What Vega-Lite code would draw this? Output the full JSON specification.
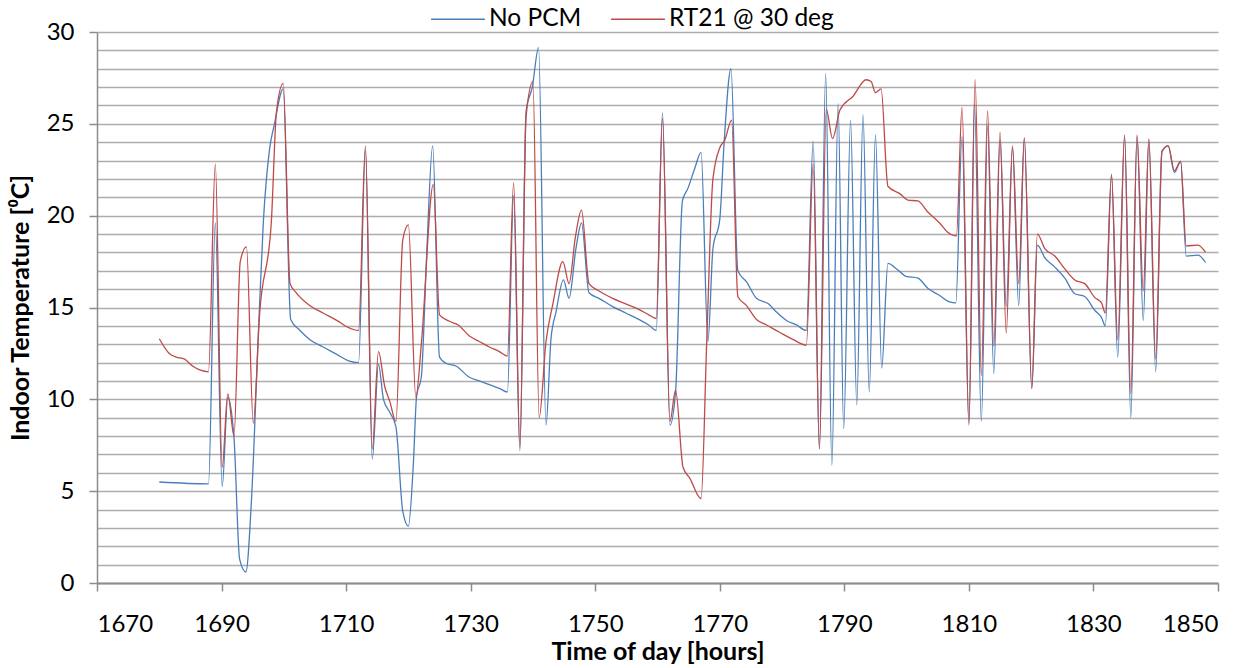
{
  "$schema": "https://vega.github.io/schema/vega-lite/v6.json",
  "autosize": {"type": "none"},
  "width": 1121,
  "height": 551,
  "padding": {"left": 97, "top": 32, "right": 40, "bottom": 85},
  "background": "white",
  "config": {
    "view": {"stroke": null},
    "font": "Lato",
    "axis": {"labelFont": "Lato", "titleFont": "Lato", "labelColor": "#000000", "titleColor": "#000000"},
    "legend": {"labelFont": "Lato"}
  },
  "datasets": {
    "noPcm": [
      [1680.0, 5.5], [1687.9, 5.4], [1689.0, 19.6], [1690.1, 5.25], [1691.0, 10.1], [1692.0, 7.9],
      [1692.9, 1.3], [1693.9, 0.6], [1694.8, 4.5], [1695.9, 13.5], [1696.7, 19.6], [1697.7, 23.6],
      [1698.5, 25.0], [1699.9, 26.9], [1701.1, 14.35], [1702.6, 13.75], [1704.2, 13.25], [1706.3, 12.85],
      [1708.5, 12.45], [1710.4, 12.1], [1712.0, 12.0], [1713.1, 23.6], [1714.2, 6.75], [1715.2, 11.9],
      [1716.0, 10.0], [1717.0, 9.3], [1718.0, 8.5], [1719.1, 3.9], [1720.0, 3.1], [1720.8, 6.5],
      [1721.3, 10.1], [1722.1, 11.3], [1722.9, 17.6], [1723.9, 23.8], [1725.0, 12.3], [1726.1, 11.95],
      [1727.7, 11.8], [1729.8, 11.2], [1731.4, 11.0], [1733.0, 10.8], [1734.6, 10.6], [1735.9, 10.4],
      [1736.9, 21.1], [1737.9, 7.2], [1738.9, 25.7], [1739.9, 27.0], [1740.9, 29.15], [1742.1, 8.6],
      [1742.9, 13.3], [1743.7, 14.75], [1744.9, 16.5], [1745.8, 15.5], [1746.9, 18.2], [1747.8, 19.6],
      [1749.0, 15.8], [1750.6, 15.5], [1752.8, 15.05], [1754.9, 14.7], [1757.0, 14.35], [1758.6, 14.05],
      [1759.8, 13.75], [1760.8, 25.6], [1762.0, 8.6], [1762.9, 10.4], [1764.0, 20.8], [1764.9, 21.5],
      [1766.0, 22.6], [1767.0, 23.45], [1768.1, 13.15], [1768.9, 18.2], [1770.0, 19.8], [1770.7, 24.0],
      [1771.8, 28.0], [1772.9, 17.0], [1774.3, 16.4], [1775.9, 15.5], [1777.8, 15.2], [1779.1, 14.75],
      [1780.9, 14.25], [1782.3, 14.05], [1783.9, 13.75], [1785.0, 24.05], [1786.0, 7.3], [1787.0, 27.75],
      [1788.0, 6.4], [1789.0, 26.1], [1789.9, 8.4], [1791.0, 25.2], [1792.0, 9.7], [1793.0, 25.5],
      [1794.0, 10.4], [1795.0, 24.4], [1796.0, 11.7], [1797.0, 17.4], [1798.4, 17.1], [1799.9, 16.7],
      [1801.8, 16.6], [1803.4, 16.05], [1805.3, 15.65], [1806.9, 15.3], [1807.9, 15.25], [1808.9, 24.3],
      [1810.0, 8.7], [1810.9, 26.1], [1812.0, 8.8], [1813.0, 24.9], [1814.0, 11.4], [1815.0, 24.1],
      [1816.0, 15.05], [1817.0, 23.7], [1818.0, 15.1], [1818.9, 24.2], [1820.1, 10.6], [1821.0, 18.4],
      [1822.2, 17.7], [1823.8, 17.2], [1825.4, 16.6], [1827.0, 15.75], [1828.6, 15.6], [1830.2, 14.85],
      [1831.3, 14.45], [1831.9, 14.0], [1832.9, 22.2], [1833.9, 12.3], [1835.0, 24.3], [1836.0, 9.0],
      [1837.0, 24.3], [1838.0, 14.3], [1838.9, 24.1], [1840.0, 11.5], [1841.0, 23.5], [1842.0, 23.8],
      [1843.0, 22.35], [1844.0, 22.95], [1844.9, 17.8], [1846.8, 17.85], [1848.0, 17.45]
    ],
    "rt21": [
      [1680.0, 13.3], [1681.6, 12.5], [1682.7, 12.3], [1684.0, 12.2], [1685.4, 11.8], [1686.5, 11.6],
      [1687.9, 11.5], [1689.0, 22.8], [1690.1, 6.3], [1691.0, 10.3], [1692.0, 8.0], [1693.0, 17.5],
      [1694.0, 18.3], [1695.1, 8.7], [1696.1, 14.6], [1698.0, 19.7], [1698.8, 25.6], [1699.9, 27.2],
      [1701.0, 16.3], [1702.0, 15.8], [1704.2, 15.1], [1706.3, 14.7], [1708.5, 14.3], [1710.1, 13.95],
      [1712.0, 13.75], [1713.1, 23.8], [1714.2, 7.3], [1715.2, 12.6], [1716.2, 10.7], [1717.0, 9.9],
      [1718.0, 8.8], [1719.1, 18.7], [1720.0, 19.5], [1721.2, 10.1], [1722.1, 13.1], [1724.0, 21.7],
      [1725.0, 14.6], [1726.6, 14.25], [1728.0, 14.05], [1729.8, 13.45], [1731.4, 13.15], [1733.0, 12.85],
      [1734.6, 12.6], [1735.9, 12.35], [1736.9, 21.8], [1737.9, 7.4], [1738.9, 25.4], [1740.0, 27.3],
      [1741.0, 9.0], [1742.1, 13.15], [1743.2, 15.2], [1744.8, 17.5], [1745.8, 16.3], [1746.8, 18.8],
      [1747.8, 20.3], [1749.0, 16.3], [1750.6, 15.9], [1752.8, 15.5], [1754.9, 15.2], [1757.0, 14.9],
      [1758.6, 14.6], [1759.8, 14.4], [1760.8, 25.3], [1762.0, 8.8], [1762.9, 10.5], [1764.1, 6.3],
      [1765.2, 5.7], [1767.0, 4.6], [1767.9, 13.1], [1768.9, 22.0], [1770.0, 23.7], [1770.8, 24.1],
      [1771.9, 25.2], [1772.9, 15.6], [1774.3, 15.1], [1775.9, 14.35], [1777.5, 14.05], [1779.6, 13.65],
      [1781.8, 13.25], [1783.9, 12.95], [1785.0, 22.8], [1786.0, 7.3], [1787.1, 25.8], [1788.1, 24.2],
      [1789.3, 25.75], [1791.4, 26.5], [1793.5, 27.4], [1794.3, 27.3], [1795.0, 26.7], [1795.9, 26.9],
      [1797.0, 21.6], [1798.9, 21.2], [1800.2, 20.85], [1801.8, 20.8], [1803.4, 20.2], [1805.3, 19.6],
      [1806.6, 19.1], [1808.0, 18.9], [1808.9, 25.9], [1810.0, 8.6], [1811.0, 27.4], [1812.0, 11.3],
      [1813.0, 25.7], [1814.0, 12.9], [1815.0, 24.55], [1816.0, 13.6], [1817.0, 23.8], [1818.0, 16.3],
      [1818.9, 24.25], [1820.1, 10.6], [1821.0, 19.0], [1822.2, 18.2], [1823.8, 17.8], [1825.4, 17.1],
      [1827.0, 16.5], [1828.6, 16.3], [1830.2, 15.55], [1831.3, 15.25], [1831.9, 14.7], [1832.9, 22.25],
      [1833.9, 13.25], [1835.0, 24.4], [1836.0, 10.3], [1837.0, 24.4], [1838.0, 15.9], [1838.9, 24.2],
      [1840.0, 12.2], [1841.0, 23.5], [1842.0, 23.8], [1843.0, 22.45], [1844.0, 22.95], [1844.9, 18.35],
      [1846.8, 18.4], [1848.0, 18.0]
    ]
  },
  "layer": [
    {
      "data": {"name": "noPcm"},
      "transform": [
        {"calculate": "datum[0]", "as": "hour"},
        {"calculate": "datum[1]", "as": "temp"},
        {"calculate": "'No PCM'", "as": "series"}
      ],
      "mark": {"type": "line", "interpolate": "monotone", "strokeWidth": 1.3, "clip": true},
      "encoding": {
        "x": {"field": "hour", "type": "quantitative"},
        "y": {"field": "temp", "type": "quantitative"},
        "color": {"field": "series", "type": "nominal"}
      }
    },
    {
      "data": {"name": "rt21"},
      "transform": [
        {"calculate": "datum[0]", "as": "hour"},
        {"calculate": "datum[1]", "as": "temp"},
        {"calculate": "'RT21 @ 30 deg'", "as": "series"}
      ],
      "mark": {"type": "line", "interpolate": "monotone", "strokeWidth": 1.3, "clip": true},
      "encoding": {
        "x": {"field": "hour", "type": "quantitative"},
        "y": {"field": "temp", "type": "quantitative"},
        "color": {"field": "series", "type": "nominal"}
      }
    }
  ],
  "resolve": {"scale": {"color": "shared"}},
  "encoding": {
    "x": {
      "field": "hour",
      "type": "quantitative",
      "title": "Time of day [hours]",
      "scale": {"domain": [1670, 1850], "nice": false, "zero": false},
      "axis": {
        "values": [1670, 1690, 1710, 1730, 1750, 1770, 1790, 1810, 1830, 1850],
        "format": "d",
        "grid": false,
        "domainColor": "#8c8c8c",
        "domainWidth": 2,
        "tickColor": "#8c8c8c",
        "tickWidth": 1.5,
        "tickSize": 8,
        "labelFontSize": 24,
        "labelPadding": 21,
        "titleFontSize": 25,
        "titleFontWeight": "bold",
        "titlePadding": 3
      }
    },
    "y": {
      "field": "temp",
      "type": "quantitative",
      "title": "Indoor Temperature [⁰C]",
      "scale": {"domain": [0, 30], "nice": false},
      "axis": {
        "values": [0, 1, 2, 3, 4, 5, 6, 7, 8, 9, 10, 11, 12, 13, 14, 15, 16, 17, 18, 19, 20, 21, 22, 23, 24, 25, 26, 27, 28, 29, 30],
        "labelExpr": "datum.value % 5 === 0 ? datum.label : ''",
        "grid": true,
        "gridColor": "#adadad",
        "gridWidth": 1.7,
        "domainColor": "#8c8c8c",
        "domainWidth": 1.5,
        "tickColor": "#8c8c8c",
        "tickWidth": 1.5,
        "tickSize": 8,
        "tickOpacity": {"condition": {"test": "datum.value % 5 === 0", "value": 1}, "value": 0},
        "labelFontSize": 24,
        "labelPadding": 15,
        "titleFontSize": 25,
        "titleFontWeight": "bold",
        "titlePadding": 13
      }
    },
    "color": {
      "field": "series",
      "type": "nominal",
      "scale": {"domain": ["No PCM", "RT21 @ 30 deg"], "range": ["#4a7ebb", "#be4b48"]},
      "legend": {
        "title": null,
        "orient": "none",
        "direction": "horizontal",
        "legendX": 333,
        "legendY": -41,
        "symbolType": "stroke",
        "symbolSize": 2900,
        "symbolStrokeWidth": 1.5,
        "labelFontSize": 24.5,
        "labelLimit": 400,
        "labelOffset": 3,
        "columnPadding": 26
      }
    }
  }
}
